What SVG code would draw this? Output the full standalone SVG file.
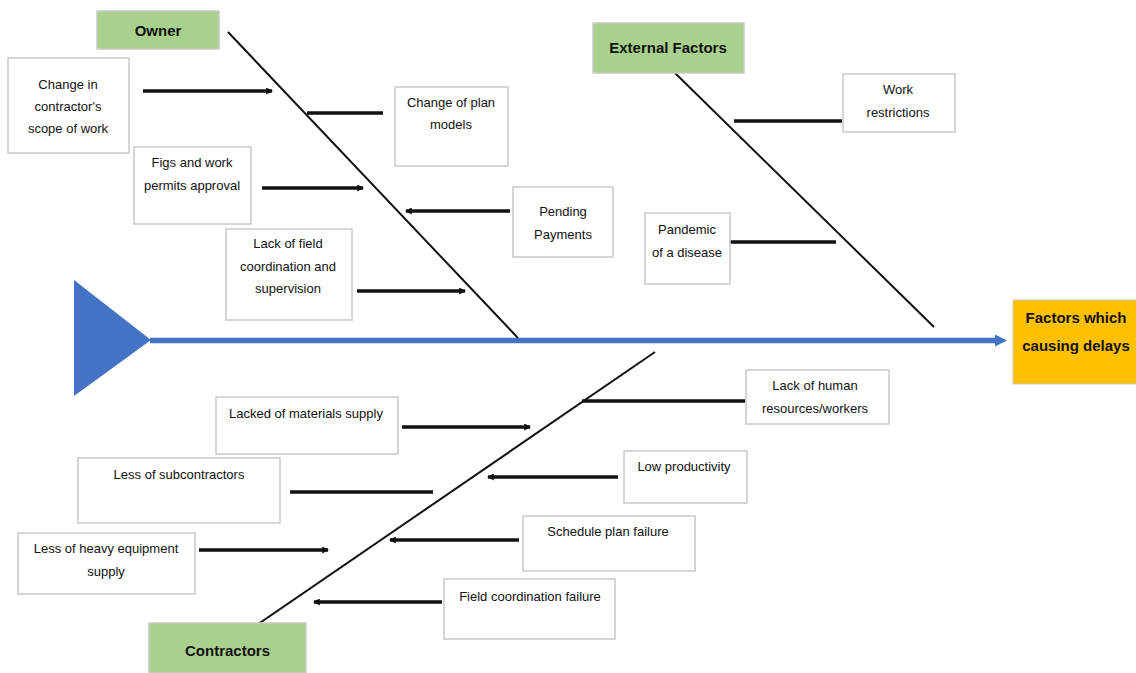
<svg xmlns="http://www.w3.org/2000/svg" width="1136" height="673" viewBox="0 0 1136 673">
<style>
.box{fill:#ffffff;stroke:#c9c9c9;stroke-width:1.5}
.cat{fill:#a9d18e;stroke:#c9c9c9;stroke-width:1.5}
.head{fill:#ffc000;stroke:#c9c9c9;stroke-width:1}
.t{font-family:"Liberation Sans",Arial,sans-serif;font-size:13px;fill:#111;text-anchor:middle}
.tb{font-family:"Liberation Sans",Arial,sans-serif;font-size:15px;font-weight:bold;fill:#111;text-anchor:middle}
.bone{stroke:#111;stroke-width:2;fill:none}
.sub{stroke:#111;stroke-width:3.5;fill:none}
</style>
<defs>
<marker id="ah" viewBox="0 0 6 6" refX="5" refY="3" markerWidth="2" markerHeight="2" orient="auto">
<path d="M0,0 L6,3 L0,6 z" fill="#111"/>
</marker>
<marker id="sp" viewBox="0 0 6 6" refX="2" refY="3" markerWidth="2.2" markerHeight="2.2" orient="auto">
<path d="M0,0 L6,3 L0,6 z" fill="#4472c4"/>
</marker>
</defs>

<g id="connectors">
<polygon points="74,280 74,396 151,340" fill="#4472c4"/>
<line x1="150" y1="340.5" x2="999" y2="340.5" stroke="#4472c4" stroke-width="5.5" marker-end="url(#sp)"/>
<line class="bone" x1="228" y1="32" x2="518" y2="338"/>
<line class="bone" x1="675" y1="73" x2="934" y2="327"/>
<line class="bone" x1="254" y1="627" x2="655" y2="352" stroke-width="1.6"/>
<line class="sub" x1="143" y1="91" x2="272" y2="91" marker-end="url(#ah)"/>
<line class="sub" x1="307" y1="113" x2="383" y2="113" stroke-width="3"/>
<line class="sub" x1="262" y1="188" x2="363" y2="188" marker-end="url(#ah)"/>
<line class="sub" x1="510" y1="211" x2="406" y2="211" marker-end="url(#ah)"/>
<line class="sub" x1="357" y1="291" x2="465" y2="291" marker-end="url(#ah)"/>
<line class="sub" x1="734" y1="121" x2="842" y2="121" stroke-width="3"/>
<line class="sub" x1="729" y1="242" x2="836" y2="242" stroke-width="3"/>
<line class="sub" x1="402" y1="427" x2="530" y2="427" marker-end="url(#ah)"/>
<line class="sub" x1="290" y1="492" x2="433" y2="492" stroke-width="3"/>
<line class="sub" x1="199" y1="550" x2="328" y2="550" marker-end="url(#ah)"/>
<line class="sub" x1="582" y1="401" x2="745" y2="401" stroke-width="3"/>
<line class="sub" x1="618" y1="477" x2="488" y2="477" marker-end="url(#ah)"/>
<line class="sub" x1="519" y1="540" x2="390" y2="540" stroke-width="3" marker-end="url(#ah)"/>
<line class="sub" x1="442" y1="602" x2="314" y2="602" marker-end="url(#ah)"/>
</g>

<g id="owner">
<rect class="cat" x="97" y="11" width="122" height="38"/>
<text class="tb" x="158" y="35.5">Owner</text>
</g>
<g id="external-factors">
<rect class="cat" x="593" y="23" width="151" height="50"/>
<text class="tb" x="668" y="53">External Factors</text>
</g>
<g id="contractors">
<rect class="cat" x="149" y="623" width="157" height="50"/>
<text class="tb" x="227.5" y="656">Contractors</text>
</g>
<g id="effect">
<rect class="head" x="1013" y="300" width="124" height="84"/>
<text class="tb" x="1076" y="322.5">Factors which</text>
<text class="tb" x="1076" y="351">causing delays</text>
</g>

<g id="change-scope">
<rect class="box" x="8" y="58" width="121" height="95"/>
<text class="t" x="68" y="88.5">Change in</text>
<text class="t" x="68" y="110.5">contractor's</text>
<text class="t" x="68" y="133">scope of work</text>
</g>
<g id="change-plan">
<rect class="box" x="395" y="87" width="113" height="79"/>
<text class="t" x="451" y="106.5">Change of plan</text>
<text class="t" x="451" y="129">models</text>
</g>
<g id="figs-permits">
<rect class="box" x="134" y="147" width="117" height="77"/>
<text class="t" x="192" y="167">Figs and work</text>
<text class="t" x="192" y="190">permits approval</text>
</g>
<g id="pending-payments">
<rect class="box" x="513" y="187" width="100" height="70"/>
<text class="t" x="563" y="215.5">Pending</text>
<text class="t" x="563" y="238.5">Payments</text>
</g>
<g id="lack-field">
<rect class="box" x="226" y="229" width="126" height="91"/>
<text class="t" x="288" y="247.5">Lack of field</text>
<text class="t" x="288" y="270.5">coordination and</text>
<text class="t" x="288" y="293">supervision</text>
</g>
<g id="work-restrictions">
<rect class="box" x="843" y="74" width="112" height="58"/>
<text class="t" x="898" y="93.5">Work</text>
<text class="t" x="898" y="116.5">restrictions</text>
</g>
<g id="pandemic">
<rect class="box" x="645" y="213" width="85" height="71"/>
<text class="t" x="687" y="233.5">Pandemic</text>
<text class="t" x="687" y="256.5">of a disease</text>
</g>
<g id="lacked-materials">
<rect class="box" x="216" y="397" width="182" height="57"/>
<text class="t" x="306" y="418">Lacked of materials supply</text>
</g>
<g id="less-subcontractors">
<rect class="box" x="78" y="458" width="202" height="65"/>
<text class="t" x="179" y="479">Less of subcontractors</text>
</g>
<g id="less-heavy-equipment">
<rect class="box" x="18" y="533" width="177" height="61"/>
<text class="t" x="106" y="553">Less of heavy equipment</text>
<text class="t" x="106" y="575.5">supply</text>
</g>
<g id="lack-human">
<rect class="box" x="746" y="370" width="143" height="54"/>
<text class="t" x="815" y="389.5">Lack of human</text>
<text class="t" x="815" y="412.5">resources/workers</text>
</g>
<g id="low-productivity">
<rect class="box" x="624" y="451" width="123" height="52"/>
<text class="t" x="684" y="470.5">Low productivity</text>
</g>
<g id="schedule-failure">
<rect class="box" x="523" y="516" width="172" height="55"/>
<text class="t" x="608" y="535.5">Schedule plan failure</text>
</g>
<g id="field-coordination-failure">
<rect class="box" x="444" y="579" width="171" height="60"/>
<text class="t" x="530" y="600.5">Field coordination failure</text>
</g>
</svg>
